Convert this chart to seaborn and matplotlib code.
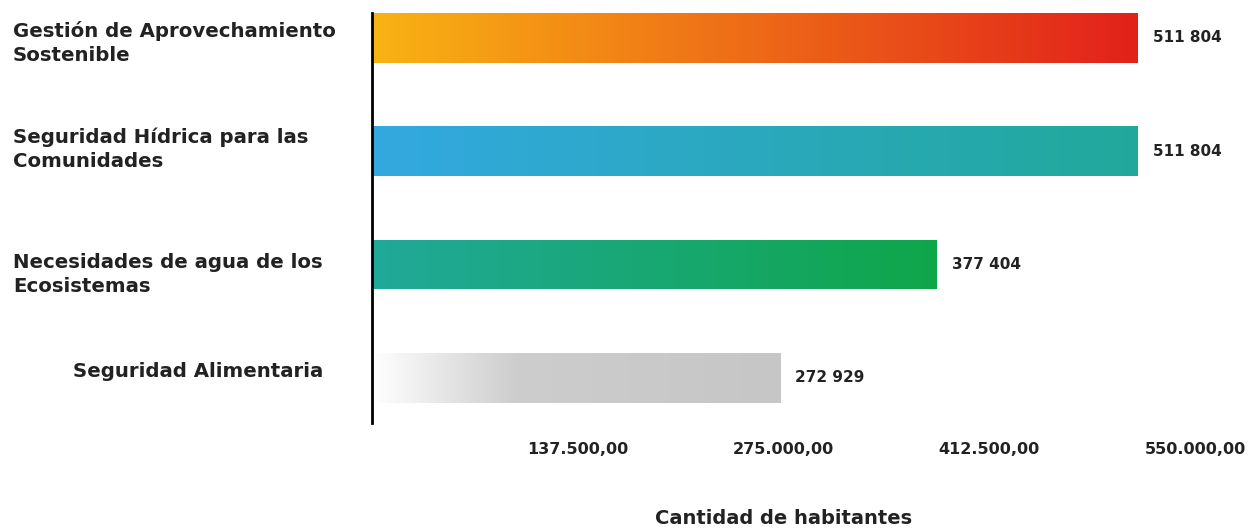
import numpy as np
import pandas as pd
import matplotlib
matplotlib.use("Agg")
import matplotlib.pyplot as plt
import matplotlib.transforms as mtransforms
from matplotlib.colors import LinearSegmentedColormap
import seaborn as sns

categories = [
    "Gestión de Aprovechamiento\nSostenible",
    "Seguridad Hídrica para las\nComunidades",
    "Necesidades de agua de los\nEcosistemas",
    "Seguridad Alimentaria",
]
values = [511804, 511804, 377404, 272929]
value_labels = ["511 804", "511 804", "377 404", "272 929"]
tick_values = [137500, 275000, 412500, 550000]
tick_labels = ["137.500,00", "275.000,00", "412.500,00", "550.000,00"]
gradients = [
    [(0.0, "#F9B313"), (1.0, "#E2211B")],
    [(0.0, "#33A8E0"), (1.0, "#22A99B")],
    [(0.0, "#21A99A"), (1.0, "#0FA64A")],
    [(0.0, "#FFFFFF"), (0.35, "#CDCDCD"), (1.0, "#C6C6C6")],
]
xlabel = "Cantidad de habitantes"

sns.set_theme(style="white")
plt.rcParams["font.family"] = ["DejaVu Sans"]

fig = plt.figure(figsize=(12.52, 5.29), dpi=100)
ax = fig.add_axes([372 / 1252, 1 - 423 / 529, (1195 - 372) / 1252, 410 / 529])

df = pd.DataFrame({"cat": categories, "val": values})
sns.barplot(data=df, x="val", y="cat", orient="h", ax=ax, width=0.44,
            color="#cccccc", saturation=1)

ax.set_xlim(0, 550000)
ax.set_ylim(3.4, -0.22)

for i, p in enumerate(ax.patches):
    x0, y0 = p.get_x(), p.get_y()
    w, h = p.get_width(), p.get_height()
    cmap = LinearSegmentedColormap.from_list(f"g{i}", gradients[i])
    grad = np.linspace(0, 1, 256).reshape(1, -1)
    im = ax.imshow(grad, cmap=cmap, aspect="auto",
                   extent=[x0, x0 + w, y0 + h, y0], zorder=2,
                   interpolation="bicubic")
    im.set_clip_path(p)
    p.set_facecolor("none")
    p.set_edgecolor("none")
    ax.annotate(value_labels[i], xy=(x0 + w, y0 + h / 2),
                xytext=(15, 0), textcoords="offset pixels",
                ha="left", va="center", fontsize=11, fontweight="bold",
                color="#222222")

ax.set_ylim(3.4, -0.22)
ax.set_xlim(0, 550000)

for s in ["top", "right", "bottom"]:
    ax.spines[s].set_visible(False)
ax.spines["left"].set_color("black")
ax.spines["left"].set_linewidth(2)

ax.set_yticks(range(len(categories)))
ax.set_yticklabels([])
ax.tick_params(axis="y", length=0)
ax.set_ylabel("")

ax.set_xticks(tick_values)
ax.set_xticklabels(tick_labels, fontsize=11.5, fontweight="bold", color="#222222")
ax.tick_params(axis="x", length=0, pad=14)
ax.set_xlabel(xlabel, fontsize=14, fontweight="bold", color="#222222", va="center")
ax.xaxis.set_label_coords(0.5, (423 - 518) / 410)

# small vertical offsets (pixels) of the label blocks as seen in the reference
label_offsets_px = [5, -2, 10, -6]
trans = mtransforms.blended_transform_factory(fig.transFigure, ax.transData)
for i, cat in enumerate(categories):
    off = mtransforms.offset_copy(trans, fig=fig, x=0, y=-label_offsets_px[i], units="dots")
    if "\n" in cat:
        ax.text(13 / 1252, i, cat, transform=off, ha="left", va="center",
                fontsize=14.2, fontweight="bold", color="#222222",
                linespacing=1.3)
    else:
        ax.text(198 / 1252, i, cat, transform=off, ha="center", va="center",
                fontsize=14.2, fontweight="bold", color="#222222")

fig.savefig("out.png", dpi=100, facecolor="white")
